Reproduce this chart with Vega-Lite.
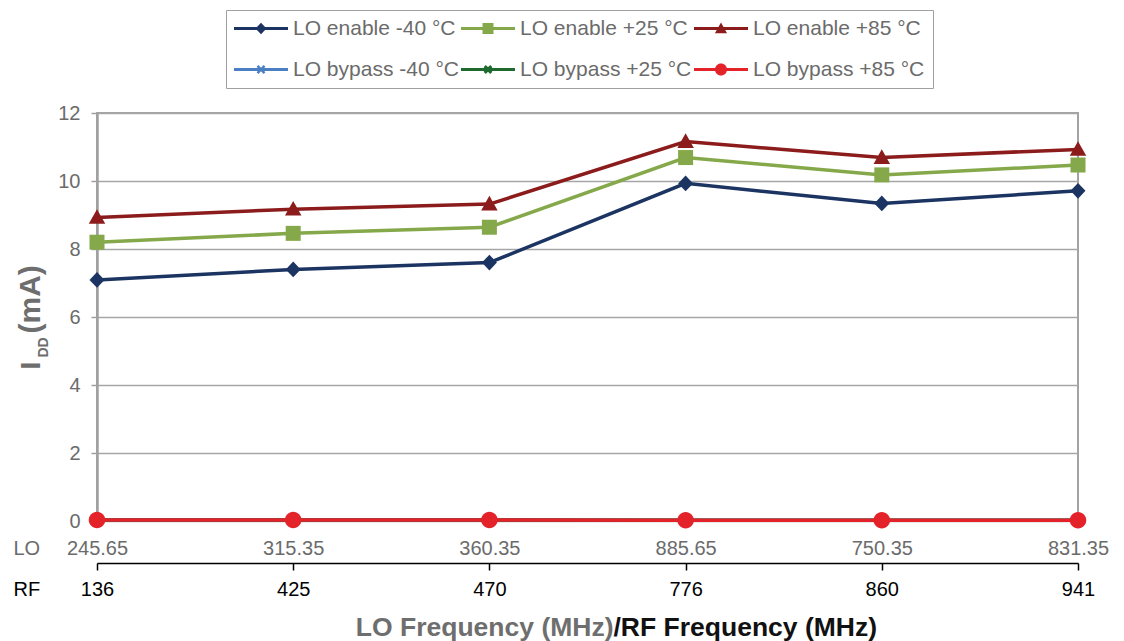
{
  "$schema": "https://vega.github.io/schema/vega-lite/v6.json",
  "width": 981,
  "height": 408,
  "autosize": {"type": "none"},
  "padding": {"left": 97, "top": 113, "right": 46, "bottom": 120},
  "background": "white",
  "config": {
    "font": "Liberation Sans",
    "view": {"stroke": "#a3a3a3", "strokeWidth": 2},
    "axis": {"labelFont": "Liberation Sans", "titleFont": "Liberation Sans"}
  },
  "data": {
    "values": [
      {"series": "LO enable -40 °C", "lo": "245.65", "rf": 136, "value": 7.09},
      {"series": "LO enable -40 °C", "lo": "315.35", "rf": 425, "value": 7.40},
      {"series": "LO enable -40 °C", "lo": "360.35", "rf": 470, "value": 7.60},
      {"series": "LO enable -40 °C", "lo": "885.65", "rf": 776, "value": 9.93},
      {"series": "LO enable -40 °C", "lo": "750.35", "rf": 860, "value": 9.34},
      {"series": "LO enable -40 °C", "lo": "831.35", "rf": 941, "value": 9.71},
      {"series": "LO enable +25 °C", "lo": "245.65", "rf": 136, "value": 8.20},
      {"series": "LO enable +25 °C", "lo": "315.35", "rf": 425, "value": 8.46},
      {"series": "LO enable +25 °C", "lo": "360.35", "rf": 470, "value": 8.64},
      {"series": "LO enable +25 °C", "lo": "885.65", "rf": 776, "value": 10.69},
      {"series": "LO enable +25 °C", "lo": "750.35", "rf": 860, "value": 10.18},
      {"series": "LO enable +25 °C", "lo": "831.35", "rf": 941, "value": 10.47},
      {"series": "LO enable +85 °C", "lo": "245.65", "rf": 136, "value": 8.93},
      {"series": "LO enable +85 °C", "lo": "315.35", "rf": 425, "value": 9.17},
      {"series": "LO enable +85 °C", "lo": "360.35", "rf": 470, "value": 9.32},
      {"series": "LO enable +85 °C", "lo": "885.65", "rf": 776, "value": 11.16},
      {"series": "LO enable +85 °C", "lo": "750.35", "rf": 860, "value": 10.69},
      {"series": "LO enable +85 °C", "lo": "831.35", "rf": 941, "value": 10.93},
      {"series": "LO bypass -40 °C", "lo": "245.65", "rf": 136, "value": 0.03},
      {"series": "LO bypass -40 °C", "lo": "315.35", "rf": 425, "value": 0.03},
      {"series": "LO bypass -40 °C", "lo": "360.35", "rf": 470, "value": 0.03},
      {"series": "LO bypass -40 °C", "lo": "885.65", "rf": 776, "value": 0.02},
      {"series": "LO bypass -40 °C", "lo": "750.35", "rf": 860, "value": 0.02},
      {"series": "LO bypass -40 °C", "lo": "831.35", "rf": 941, "value": 0.02},
      {"series": "LO bypass +25 °C", "lo": "245.65", "rf": 136, "value": 0.03},
      {"series": "LO bypass +25 °C", "lo": "315.35", "rf": 425, "value": 0.03},
      {"series": "LO bypass +25 °C", "lo": "360.35", "rf": 470, "value": 0.03},
      {"series": "LO bypass +25 °C", "lo": "885.65", "rf": 776, "value": 0.02},
      {"series": "LO bypass +25 °C", "lo": "750.35", "rf": 860, "value": 0.02},
      {"series": "LO bypass +25 °C", "lo": "831.35", "rf": 941, "value": 0.02},
      {"series": "LO bypass +85 °C", "lo": "245.65", "rf": 136, "value": 0.03},
      {"series": "LO bypass +85 °C", "lo": "315.35", "rf": 425, "value": 0.03},
      {"series": "LO bypass +85 °C", "lo": "360.35", "rf": 470, "value": 0.03},
      {"series": "LO bypass +85 °C", "lo": "885.65", "rf": 776, "value": 0.02},
      {"series": "LO bypass +85 °C", "lo": "750.35", "rf": 860, "value": 0.02},
      {"series": "LO bypass +85 °C", "lo": "831.35", "rf": 941, "value": 0.02}
    ]
  },
  "layer": [
    {
      "mark": {"type": "line", "strokeWidth": 3.5},
      "encoding": {
        "x": {
          "field": "lo", "type": "nominal", "sort": null,
          "scale": {"type": "point", "padding": 0},
          "axis": {
            "orient": "bottom", "offset": 0, "domain": false, "ticks": false, "tickSize": 0, "grid": false,
            "labelColor": "#6b6b6b", "labelFontSize": 20, "labelBaseline": "alphabetic", "labelPadding": 33,
            "labelAngle": 0, "labelOverlap": false, "labelFlush": false, "labelBound": false,
            "title": "LO Frequency (MHz)", "titleColor": "#6e6e6e", "titleFontSize": 26.5, "titleFontWeight": "bold",
            "titleAlign": "right", "titleBaseline": "alphabetic", "titleAnchor": null, "titleX": 516, "titleY": 114
          }
        },
        "y": {
          "field": "value", "type": "quantitative",
          "scale": {"domain": [0, 12], "nice": false, "zero": true},
          "axis": {
            "orient": "left", "values": [0, 2, 4, 6, 8, 10, 12],
            "domainColor": "#a0a0a0", "domainWidth": 2.5,
            "tickColor": "#a0a0a0", "tickSize": 6, "tickWidth": 1.5,
            "labelColor": "#6b6b6b", "labelFontSize": 20, "labelPadding": 11, "labelFlush": false,
            "grid": true, "gridColor": "#a6a6a6", "gridWidth": 1.3,
            "title": "I", "titleColor": "#6e6e6e", "titleFontSize": 28, "titleFontWeight": "bold",
            "titleAngle": 270, "titleAlign": "left", "titleBaseline": "alphabetic", "titleAnchor": null,
            "titleX": -58, "titleY": 256
          }
        },
        "stroke": {
          "field": "series", "type": "nominal", "sort": null,
          "scale": {"range": ["#1c3462", "#85a94a", "#8c1c1c", "#4b7fc4", "#1f6a30", "#e32229"]},
          "legend": {
            "orient": "none", "legendX": 129, "legendY": -103, "columns": 3, "direction": "horizontal", "title": null,
            "labelFont": "Liberation Sans", "labelFontSize": 21, "labelColor": "#6b6b6b", "labelLimit": 400,
            "symbolType": "stroke", "symbolSize": 2916, "symbolStrokeWidth": 3, "symbolOffset": -1.5, "labelOffset": 3.5,
            "clipHeight": 21, "columnPadding": 2, "rowPadding": 19, "padding": 8, "strokeColor": "#a0a0a0"
          }
        },
        "order": {"field": "rf", "type": "quantitative"}
      }
    },
    {
      "mark": {"type": "point", "filled": true, "opacity": 1, "size": 225, "strokeWidth": 0},
      "encoding": {
        "x": {
          "field": "lo", "type": "nominal", "sort": null,
          "scale": {"type": "point", "padding": 0},
          "axis": {
            "orient": "bottom", "offset": 0, "domain": false, "ticks": false, "labels": false, "grid": false,
            "title": "LO", "titleColor": "#6b6b6b", "titleFontSize": 20, "titleFontWeight": "normal",
            "titleAlign": "left", "titleBaseline": "alphabetic", "titleAnchor": null, "titleX": -84, "titleY": 33
          }
        },
        "y": {
          "field": "value", "type": "quantitative",
          "scale": {"domain": [0, 12], "nice": false, "zero": true},
          "axis": {
            "orient": "left", "domain": false, "ticks": false, "labels": false, "grid": false,
            "title": "DD", "titleColor": "#6e6e6e", "titleFontSize": 14, "titleFontWeight": "bold",
            "titleAngle": 270, "titleAlign": "left", "titleBaseline": "alphabetic", "titleAnchor": null,
            "titleX": -50, "titleY": 244
          }
        },
        "color": {
          "field": "series", "type": "nominal",
          "scale": {
            "domain": ["LO enable -40 °C", "LO enable +25 °C", "LO enable +85 °C", "LO bypass -40 °C", "LO bypass +25 °C", "LO bypass +85 °C"],
            "range": ["#1c3462", "#85a94a", "#8c1c1c", "#4b7fc4", "#1f6a30", "#e32229"]
          },
          "legend": {
            "orient": "none", "legendX": 129, "legendY": -103, "columns": 3, "direction": "horizontal", "title": null,
            "labelFont": "Liberation Sans", "labelFontSize": 21, "labelColor": "transparent", "labelLimit": 400,
            "symbolSize": 121, "symbolStrokeWidth": 0, "symbolOffset": 16.5, "labelOffset": 21.5, "symbolOpacity": 1,
            "clipHeight": 21, "columnPadding": 2, "rowPadding": 19, "padding": 8
          }
        },
        "shape": {
          "field": "series", "type": "nominal",
          "scale": {
            "domain": ["LO enable -40 °C", "LO enable +25 °C", "LO enable +85 °C", "LO bypass -40 °C", "LO bypass +25 °C", "LO bypass +85 °C"],
            "range": [
              "M0,-1.05L1,0L0,1.05L-1,0Z",
              "M-1,-1L1,-1L1,1L-1,1Z",
              "M0,-1.1L1.1,0.85L-1.1,0.85Z",
              "M-0.8,-0.48L-0.48,-0.8L0,-0.32L0.48,-0.8L0.8,-0.48L0.32,0L0.8,0.48L0.48,0.8L0,0.32L-0.48,0.8L-0.8,0.48L-0.32,0Z",
              "M-0.8,-0.4L-0.4,-0.8L0,-0.4L0.4,-0.8L0.8,-0.4L0.4,0L0.8,0.4L0.4,0.8L0,0.4L-0.4,0.8L-0.8,0.4L-0.4,0Z",
              "M1.1,0A1.1,1.1,0,1,1,-1.1,0A1.1,1.1,0,1,1,1.1,0Z"
            ]
          },
          "legend": {
            "orient": "none", "legendX": 129, "legendY": -103, "columns": 3, "direction": "horizontal", "title": null,
            "labelFont": "Liberation Sans", "labelFontSize": 21, "labelColor": "transparent", "labelLimit": 400,
            "symbolSize": 121, "symbolStrokeWidth": 0, "symbolOffset": 16.5, "labelOffset": 21.5, "symbolOpacity": 1,
            "clipHeight": 21, "columnPadding": 2, "rowPadding": 19, "padding": 8
          }
        }
      }
    },
    {
      "mark": {"type": "tick", "opacity": 0},
      "encoding": {
        "x": {
          "field": "rf", "type": "ordinal",
          "scale": {"type": "point", "padding": 0},
          "axis": {
            "orient": "bottom", "offset": 42, "domain": true, "domainColor": "#000000", "domainWidth": 1.5,
            "ticks": true, "tickColor": "#000000", "tickSize": 7, "tickWidth": 1.5, "grid": false,
            "labelColor": "#000000", "labelFontSize": 20, "labelBaseline": "alphabetic", "labelPadding": 25,
            "labelAngle": 0, "labelOverlap": false, "labelFlush": false, "labelBound": false,
            "title": "/RF Frequency (MHz)", "titleColor": "#111111", "titleFontSize": 26.5, "titleFontWeight": "bold",
            "titleAlign": "left", "titleBaseline": "alphabetic", "titleAnchor": null, "titleX": 516, "titleY": 72
          }
        },
        "y": {
          "field": "value", "type": "quantitative",
          "scale": {"domain": [0, 12], "nice": false, "zero": true},
          "axis": {
            "orient": "left", "domain": false, "ticks": false, "labels": false, "grid": false,
            "title": "(mA)", "titleColor": "#6e6e6e", "titleFontSize": 30, "titleFontWeight": "bold",
            "titleAngle": 270, "titleAlign": "left", "titleBaseline": "alphabetic", "titleAnchor": null,
            "titleX": -58, "titleY": 220
          }
        }
      }
    },
    {
      "mark": {"type": "tick", "opacity": 0},
      "encoding": {
        "x": {
          "field": "rf", "type": "ordinal",
          "scale": {"type": "point", "padding": 0},
          "axis": {
            "orient": "bottom", "offset": 42, "domain": false, "ticks": false, "labels": false, "grid": false,
            "title": "RF", "titleColor": "#000000", "titleFontSize": 20, "titleFontWeight": "normal",
            "titleAlign": "left", "titleBaseline": "alphabetic", "titleAnchor": null, "titleX": -84, "titleY": 32
          }
        }
      }
    }
  ],
  "resolve": {
    "scale": {"x": "independent"},
    "axis": {"x": "independent", "y": "independent"}
  }
}
